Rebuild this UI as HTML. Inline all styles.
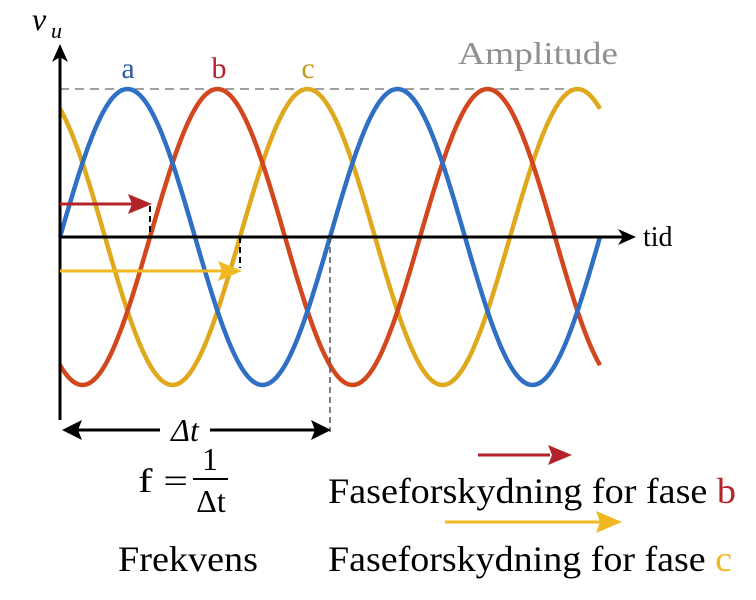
<!DOCTYPE html>
<html><head><meta charset="utf-8"><style>
html,body{margin:0;padding:0;background:#fff;width:756px;height:600px;overflow:hidden}
text{font-family:"Liberation Serif",serif}
</style></head><body>
<svg id="s" width="756" height="600" viewBox="0 0 756 600" xmlns="http://www.w3.org/2000/svg">
<line x1="60" y1="89" x2="585" y2="89" stroke="#a0a0a0" stroke-width="2" stroke-dasharray="9,6"/>
<g id="waves" fill="none" stroke-width="4.5"></g>
<line x1="60" y1="420" x2="60" y2="52" stroke="#000" stroke-width="3"/>
<path d="M60,44 L52,62 L60,57 L68,62z" fill="#000"/>
<line x1="60" y1="237" x2="625" y2="237" stroke="#000" stroke-width="3"/>
<path d="M636,237 L618,229 L623,237 L618,245z" fill="#000"/>
<line x1="150" y1="206" x2="150" y2="237" stroke="#000" stroke-width="2" stroke-dasharray="6,4"/>
<line x1="240" y1="237" x2="240" y2="268" stroke="#000" stroke-width="2" stroke-dasharray="6,4"/>
<line x1="330" y1="237" x2="330" y2="432" stroke="#555" stroke-width="1.5" stroke-dasharray="6,4"/>
<line x1="60" y1="204" x2="135" y2="204" stroke="#b5232a" stroke-width="3"/>
<path d="M152,204 L128,194 L132,204 L128,214z" fill="#b5232a"/>
<line x1="60" y1="271" x2="225" y2="271" stroke="#f0b922" stroke-width="3"/>
<path d="M242,271 L218,261 L222,271 L218,281z" fill="#f0b922"/>
<line x1="75" y1="430" x2="160" y2="430" stroke="#000" stroke-width="3"/>
<line x1="210" y1="430" x2="315" y2="430" stroke="#000" stroke-width="3"/>
<path d="M62,430 L82,420 L78,430 L82,440z" fill="#000"/>
<path d="M331,430 L311,420 L315,430 L311,440z" fill="#000"/>
<text x="185" y="441" font-size="32" text-anchor="middle" font-style="italic">Δt</text>
<text x="32" y="30" font-size="32" font-style="italic">v</text><text x="51" y="38" font-size="22" font-style="italic">u</text>
<text x="128" y="78" font-size="30" fill="#2f5aa8" text-anchor="middle">a</text>
<text x="219" y="78" font-size="30" fill="#b5232a" text-anchor="middle">b</text>
<text x="308" y="78" font-size="30" fill="#c49a1e" text-anchor="middle">c</text>
<text x="458" y="64" font-size="32" fill="#909090" textLength="160" lengthAdjust="spacingAndGlyphs">Amplitude</text>
<text x="643" y="246" font-size="28">tid</text>
<text x="138" y="492" font-size="34" textLength="50" lengthAdjust="spacingAndGlyphs">f =</text>
<text x="210" y="470" font-size="32" text-anchor="middle">1</text>
<line x1="193" y1="479" x2="228" y2="479" stroke="#000" stroke-width="2"/>
<text x="211" y="512" font-size="32" text-anchor="middle">Δt</text>
<text x="118" y="571" font-size="36" textLength="140" lengthAdjust="spacingAndGlyphs">Frekvens</text>
<line x1="478" y1="455" x2="550" y2="455" stroke="#b5232a" stroke-width="3"/>
<path d="M572,455 L548,445 L552,455 L548,465z" fill="#b5232a"/>
<text x="328" y="503" font-size="36" textLength="408" lengthAdjust="spacingAndGlyphs">Faseforskydning for fase <tspan fill="#b5232a">b</tspan></text>
<line x1="445" y1="522" x2="600" y2="522" stroke="#f0b922" stroke-width="3"/>
<path d="M622,522 L596,511 L600,522 L596,533z" fill="#f0b922"/>
<text x="328" y="571" font-size="36" textLength="404" lengthAdjust="spacingAndGlyphs">Faseforskydning for fase <tspan fill="#f0b922">c</tspan></text>
</svg>
<script>
(function(){
 var g=document.getElementById('waves');
 var specs=[["#e0a81c",240],["#d2471e",120],["#2f6fc4",0]];
 specs.forEach(function(s){
  var d="";
  for(var x=60;x<=600;x+=2){
   var y=237-148*Math.sin((x-60)/270*2*Math.PI - s[1]*Math.PI/180);
   d+=(x==60?"M":"L")+x+","+y.toFixed(1)+" ";
  }
  var p=document.createElementNS("http://www.w3.org/2000/svg","path");
  p.setAttribute("d",d);p.setAttribute("stroke",s[0]);
  g.appendChild(p);
 });
})();
</script>
</body></html>
